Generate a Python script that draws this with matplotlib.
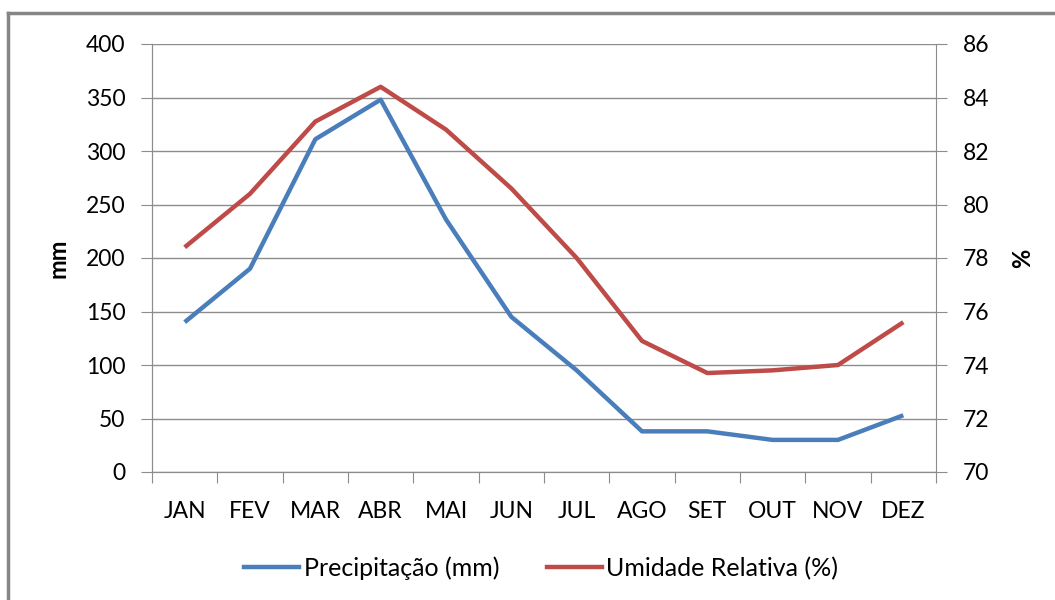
import matplotlib.pyplot as plt
from matplotlib.lines import Line2D

meses = ["JAN", "FEV", "MAR", "ABR", "MAI", "JUN", "JUL", "AGO", "SET", "OUT", "NOV", "DEZ"]
precipitacao = [140, 190, 311, 348, 236, 145, 95, 38, 38, 30, 30, 53]
umidade = [78.4, 80.4, 83.1, 84.4, 82.8, 80.6, 78.0, 74.9, 73.7, 73.8, 74.0, 75.6]

plt.rcParams['font.family'] = ['Lato', 'DejaVu Sans']
AZUL = "#4a7ebb"
VERM = "#be4b48"
CINZA = "#8c8c8c"
FS = 16.5

fig = plt.figure(figsize=(10.55, 6), dpi=100)
ax = fig.add_axes([152/1055, 128/600, (936-152)/1055, (472-44)/600])
ax2 = ax.twinx()

x = list(range(len(meses)))
ax.plot(x, precipitacao, color=AZUL, lw=3.2, solid_capstyle='butt', zorder=3)
ax2.plot(x, umidade, color=VERM, lw=3.2, solid_capstyle='butt', zorder=3)

ax.set_xlim(-0.5, len(meses) - 0.5)
ax.set_ylim(0, 400)
ax.set_yticks(range(0, 401, 50))
ax2.set_ylim(70, 86)
ax2.set_yticks(range(70, 87, 2))

ax.set_xticks([i + 0.5 for i in range(-1, len(meses))])
ax.set_xticklabels([])
ax.set_xticks(x, minor=True)
ax.set_xticklabels(meses, minor=True)
ax.tick_params(axis='x', which='minor', length=0, pad=21, labelsize=FS)
ax.tick_params(axis='x', which='major', length=8, color=CINZA, direction='out')
ax.tick_params(axis='y', length=8, color=CINZA, pad=11, labelsize=FS)
ax2.tick_params(axis='y', length=8, color=CINZA, pad=11, labelsize=FS)

ax.yaxis.grid(True, color=CINZA, lw=1)
ax.set_axisbelow(True)
for a in (ax, ax2):
    a.spines['top'].set_visible(False)
    for s in ('left', 'right', 'bottom'):
        a.spines[s].set_color(CINZA)
ax.spines['right'].set_visible(False)

ax.set_ylabel("mm", fontsize=17, fontweight='bold', labelpad=12)
ax2.set_ylabel("%", fontsize=17, fontweight='bold', rotation=90, labelpad=16)

handles = [Line2D([], [], color=AZUL, lw=3.2), Line2D([], [], color=VERM, lw=3.2)]
fig.legend(handles, ["Precipitação (mm)", "Umidade Relativa (%)"], loc='center',
           bbox_to_anchor=(541/1055, 1 - 568/600), ncol=2, frameon=False, fontsize=18,
           handlelength=2.2, handletextpad=0.2, columnspacing=1.9)

# borda do gráfico
fig.add_artist(Line2D([8/1055, 8/1055], [0, 1 - 13/600], color="#868686", lw=2.5))
fig.add_artist(Line2D([8/1055, 1], [1 - 13/600, 1 - 13/600], color="#868686", lw=2.5))

fig.savefig("out.png", dpi=100)
